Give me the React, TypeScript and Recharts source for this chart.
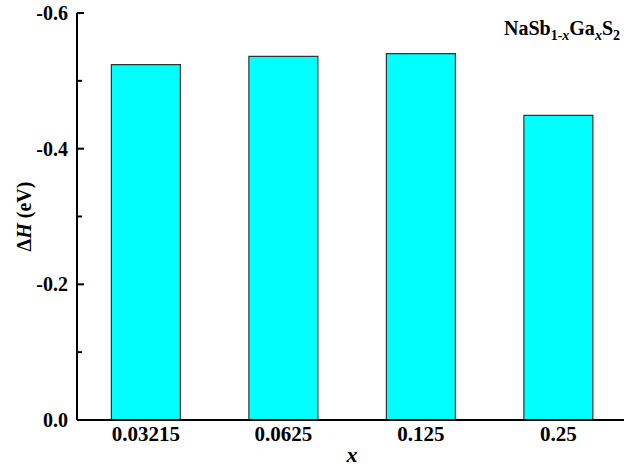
import React from "react";
import { BarChart, Bar, XAxis, YAxis, Customized, ReferenceLine } from "recharts";

const categories = ["0.03215", "0.0625", "0.125", "0.25"];
const deltaH = [-0.524, -0.536, -0.54, -0.449];
const majorTicks = [-0.6, -0.4, -0.2, 0];
const minorTicks = [-0.5, -0.3, -0.1];

const data = categories.map((c, i) => ({ x: c, dH: deltaH[i] }));

const FONT = '"Liberation Serif", "Times New Roman", Times, serif';
const txt = (extra: any = {}) => ({ fontFamily: FONT, fontWeight: 700, fill: "#000", ...extra });

const YTick = (props: any) => {
  const { x, y, payload } = props;
  const v = payload.value;
  return (
    <text x={x} y={y} dy="0.35em" textAnchor="end" style={txt({ fontSize: 20 })}>
      {Math.abs(v) < 1e-9 ? "0.0" : v.toFixed(1)}
    </text>
  );
};

const XTick = (props: any) => {
  const { x, y, payload } = props;
  return (
    <text x={x} y={y} dy="0.71em" textAnchor="middle" style={txt({ fontSize: 21 })}>
      {payload.value}
    </text>
  );
};

const YLabel = (props: any) => {
  const vb = props.viewBox || {};
  const cx = 24;
  const cy = vb.y + vb.height / 2;
  return (
    <text
      x={cx}
      y={cy}
      transform={`rotate(-90, ${cx}, ${cy})`}
      textAnchor="middle"
      dy="0.35em"
      style={txt({ fontSize: 20 })}
    >
      Δ<tspan style={{ fontStyle: "italic" }}>H</tspan> (eV)
    </text>
  );
};

const XLabel = (props: any) => {
  const vb = props.viewBox || {};
  const cx = vb.x + vb.width / 2;
  return (
    <text x={cx} y={462} textAnchor="middle" style={txt({ fontSize: 22, fontStyle: "italic" })}>
      x
    </text>
  );
};

const Annotation = (props: any) => {
  const off = props.offset || {};
  const right = (off.left ?? 77) + (off.width ?? 550) - 7;
  const top = off.top ?? 13;
  const sub = { fontSize: 14 };
  const subI = { fontSize: 14, fontStyle: "italic" };
  return (
    <text x={right} y={top + 22} textAnchor="end" style={txt({ fontSize: 20 })}>
      NaSb
      <tspan style={sub} dy={5}>1-</tspan>
      <tspan style={subI}>x</tspan>
      <tspan dy={-5}>Ga</tspan>
      <tspan style={subI} dy={5}>x</tspan>
      <tspan dy={-5}>S</tspan>
      <tspan style={sub} dy={5}>2</tspan>
    </text>
  );
};

const tickShape = (len: number) => (p: any) => {
  const x1 = Math.min(p.x1, p.x2);
  const y = p.y1;
  return <line x1={x1} x2={x1 + len} y1={y} y2={y} stroke="#000" strokeWidth={2} />;
};

export default function App() {
  return (
    <div style={{ position: "absolute", left: 0, top: 0, width: 624, height: 469, overflow: "hidden", background: "#fff" }}>
      <BarChart
        width={632}
        height={469}
        data={data}
        margin={{ top: 13, right: 5, bottom: 0, left: 0 }}
        barCategoryGap="25%"
      >
        <XAxis
          xAxisId="top"
          dataKey="x"
          orientation="top"
          height={0}
          tick={false}
          tickLine={false}
          axisLine={{ stroke: "#000", strokeWidth: 2 }}
        />
        <XAxis
          dataKey="x"
          height={49}
          tickLine={false}
          tickSize={0}
          tickMargin={6}
          tick={<XTick />}
          axisLine={{ stroke: "#000", strokeWidth: 2 }}
          label={<XLabel />}
        />
        <YAxis
          type="number"
          domain={[-0.6, 0]}
          reversed
          ticks={majorTicks}
          interval={0}
          width={77}
          tickLine={false}
          tickSize={0}
          tickMargin={9}
          tick={<YTick />}
          axisLine={{ stroke: "#000", strokeWidth: 2 }}
          label={<YLabel />}
        />
        <Bar dataKey="dH" fill="#00FFFF" stroke="#333" strokeWidth={1.2} isAnimationActive={false} />
        {majorTicks.map((v) => (
          <ReferenceLine key={"M" + v} y={v} ifOverflow="visible" shape={tickShape(7)} />
        ))}
        {minorTicks.map((v) => (
          <ReferenceLine key={"m" + v} y={v} ifOverflow="visible" shape={tickShape(5)} />
        ))}
        <Customized component={Annotation} />
      </BarChart>
    </div>
  );
}
